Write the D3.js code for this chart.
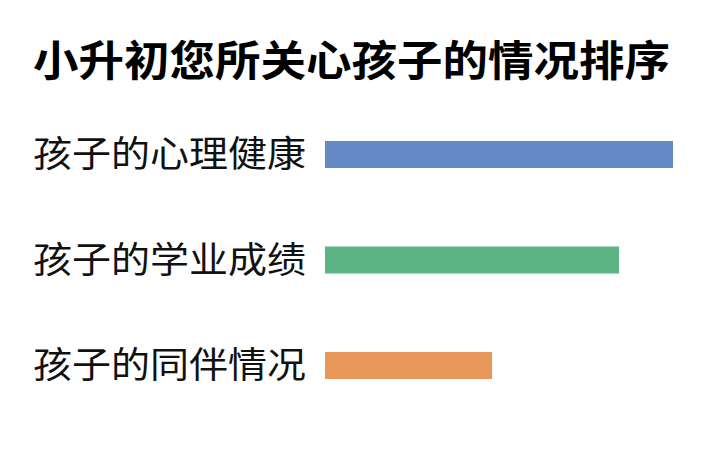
<!DOCTYPE html>
<html>
<head>
<meta charset="utf-8">
<script src="https://cdn.jsdelivr.net/npm/d3@7"></script>
<style>
  html, body { margin: 0; padding: 0; background: #fff; }
  svg { display: block; }
  text { font-family: "Noto Sans CJK SC", "Noto Sans", sans-serif; fill: #111; }
</style>
</head>
<body>
<svg id="chart" width="720" height="463"></svg>
<script>
// chart data
const titleText = '小升初您所关心孩子的情况排序';
const categories = ['孩子的心理健康', '孩子的学业成绩', '孩子的同伴情况'];
const values = [100, 84.5, 48];
const colors = ['#6489c5', '#5cb384', '#e8975b'];

const width = 720, height = 463;
const svg = d3.select('#chart');

svg.append('rect')
  .attr('width', width)
  .attr('height', height)
  .attr('fill', '#fff');

// title
svg.append('text')
  .attr('x', 33)
  .attr('y', 76)
  .attr('font-size', 42)
  .attr('font-weight', 700)
  .attr('textLength', 637)
  .attr('lengthAdjust', 'spacingAndGlyphs')
  .style('fill', '#000')
  .text(titleText);

// scales
const x = d3.scaleLinear()
  .domain([0, 100])
  .range([325, 673]);

const y = d3.scaleBand()
  .domain(categories)
  .range([101.75, 418.25])
  .paddingInner(0.744)
  .paddingOuter(0.372);

// bars
svg.append('g')
  .selectAll('rect')
  .data(categories)
  .join('rect')
  .attr('x', x(0))
  .attr('y', d => y(d))
  .attr('width', (d, i) => x(values[i]) - x(0))
  .attr('height', y.bandwidth())
  .attr('fill', (d, i) => colors[i]);

// category labels
svg.append('g')
  .selectAll('text')
  .data(categories)
  .join('text')
  .attr('x', 33)
  .attr('y', d => y(d) + y.bandwidth() / 2)
  .attr('dy', '0.36em')
  .attr('font-size', 36)
  .attr('font-weight', 400)
  .attr('textLength', 273)
  .attr('lengthAdjust', 'spacingAndGlyphs')
  .text(d => d);
</script>
</body>
</html>
